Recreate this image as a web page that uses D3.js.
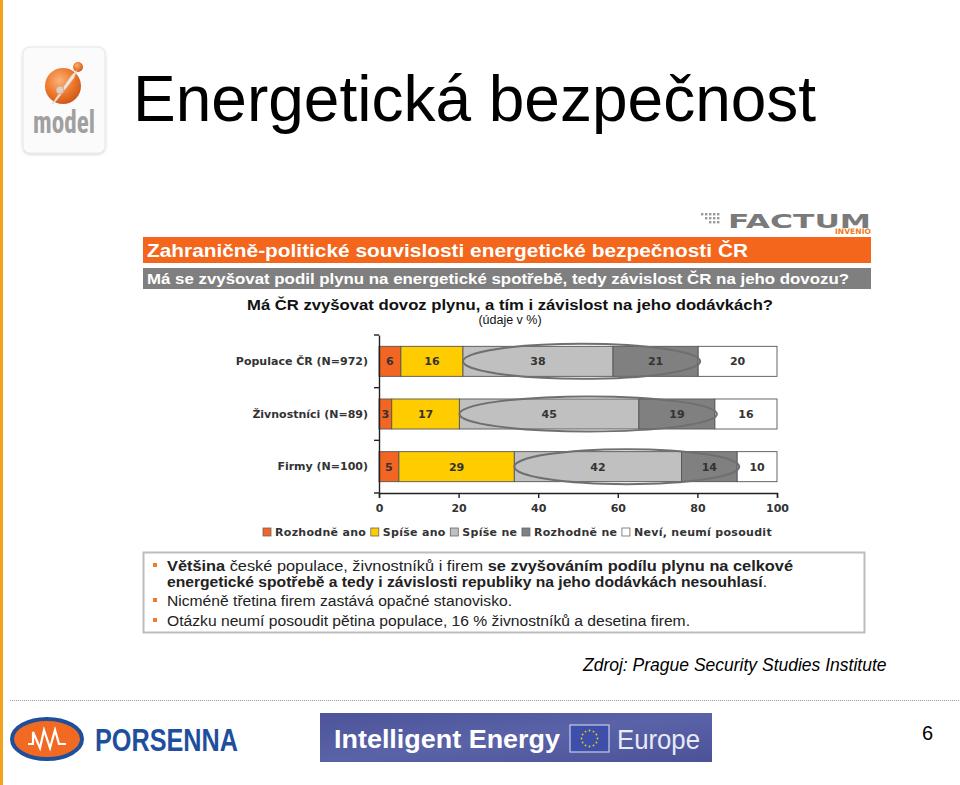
<!DOCTYPE html>
<html><head><meta charset="utf-8">
<script src="https://cdn.jsdelivr.net/npm/d3@7"></script>
<style>
html,body{margin:0;padding:0;background:#fff;}
svg{display:block;}
</style></head>
<body>
<svg id="c" width="960" height="785"></svg>
<script>
// ---------- DATA ----------
const categories = ["Populace ČR (N=972)", "Živnostníci (N=89)", "Firmy (N=100)"];
const seriesNames = ["Rozhodně ano", "Spíše ano", "Spíše ne", "Rozhodně ne", "Neví, neumí posoudit"];
const rozhodneAno = [5.5, 3.2, 5];
const spiseAno    = [15.6, 17.0, 29];
const spiseNe     = [37.7, 45.1, 42];
const rozhodneNe  = [21.4, 19.1, 14];
const nevi        = [19.8, 15.6, 10];
const xTicks = [0, 20, 40, 60, 80, 100];
const seriesColors = ["#f26522", "#ffcc00", "#c0c0c0", "#808080", "#ffffff"];
const highlightedSeries = ["Spíše ne", "Rozhodně ne"];

const titleText = "Energetická bezpečnost";
const headerText = "Zahraničně-politické souvislosti energetické bezpečnosti ČR";
const subHeaderText = "Má se zvyšovat podil plynu na energetické spotřebě, tedy závislost ČR na jeho dovozu?";
const questionText = "Má ČR zvyšovat dovoz plynu, a tím i závislost na jeho dodávkách?";
const unitText = "(údaje v %)";
const sourceText = "Zdroj: Prague Security Studies Institute";
const bulletLines = [
  [["Většina", true], [" české populace, živnostníků i firem ", false], ["se zvyšováním podílu plynu na celkové", true]],
  [["energetické spotřebě a tedy i závislosti republiky na jeho dodávkách nesouhlasí", true], [".", false]],
  [["Nicméně třetina firem zastává opačné stanovisko.", false]],
  [["Otázku neumí posoudit pětina populace, 16 % živnostníků a desetina firem.", false]]
];
const bulletHasBullet = [true, false, true, true];

// ---------- SETUP ----------
const svg = d3.select("#c");
const seriesValues = [rozhodneAno, spiseAno, spiseNe, rozhodneNe, nevi];
const rows = categories.map((c, i) => {
  const r = {cat: c};
  seriesNames.forEach((s, j) => r[s] = seriesValues[j][i]);
  return r;
});
const stacked = d3.stack().keys(seriesNames)(rows);
const color = d3.scaleOrdinal().domain(seriesNames).range(seriesColors);

// left orange border
svg.append("rect").attr("x", 0).attr("y", 0).attr("width", 3).attr("height", 785).attr("fill", "#f4a21e");

// ---------- model logo ----------
const defs = svg.append("defs");
const f = defs.append("filter").attr("id", "sh").attr("x", "-20%").attr("y", "-20%").attr("width", "140%").attr("height", "140%");
f.append("feDropShadow").attr("dx", 0).attr("dy", 1).attr("stdDeviation", 1.5).attr("flood-color", "#000").attr("flood-opacity", 0.18);
const rg = defs.append("radialGradient").attr("id", "orb").attr("cx", "40%").attr("cy", "35%").attr("r", "70%");
rg.append("stop").attr("offset", "0%").attr("stop-color", "#fbb27a");
rg.append("stop").attr("offset", "55%").attr("stop-color", "#ee7a2c");
rg.append("stop").attr("offset", "100%").attr("stop-color", "#c9541a");
svg.append("rect").attr("x", 23).attr("y", 47).attr("width", 82).attr("height", 106).attr("rx", 7)
  .attr("fill", "#fbfbfb").attr("stroke", "#e6e6e6").attr("filter", "url(#sh)");
svg.append("circle").attr("cx", 63).attr("cy", 86).attr("r", 18).attr("fill", "url(#orb)");
svg.append("circle").attr("cx", 78).attr("cy", 67).attr("r", 5).attr("fill", "url(#orb)");
svg.append("path").attr("d", "M77,70 L71,76 L52,104 L56,101 L74,78 Z").attr("fill", "#f3e6dc").attr("stroke", "#d9c3b2").attr("stroke-width", 0.6);
svg.append("circle").attr("cx", 60).attr("cy", 90).attr("r", 4).attr("fill", "#e7cdbb").attr("stroke", "#c9a387").attr("stroke-width", 0.8);
svg.append("text").attr("x", 33).attr("y", 133).attr("font-family", "'Liberation Sans Narrow','Roboto Condensed','Liberation Sans',sans-serif")
  .attr("font-size", 32).attr("font-weight", "bold").attr("fill", "#a0a0a0").attr("textLength", 62).attr("lengthAdjust", "spacingAndGlyphs").text("model");

// ---------- Title ----------
svg.append("text").attr("x", 133).attr("y", 121).attr("font-family", "'Liberation Sans',Arial,sans-serif")
  .attr("font-size", 64).attr("fill", "#000").text(titleText);

// ---------- FACTUM logo ----------
const dots = svg.append("g").attr("fill", "#9a9a9a");
[0,1,2].forEach(r => d3.range(5 - r).forEach(k => {
  dots.append("rect").attr("x", 701 + k * 4 + r * 4).attr("y", 213 + r * 4).attr("width", 2.4).attr("height", 2.4);
}));
svg.append("text").attr("x", 728).attr("y", 228).attr("font-family", "'DejaVu Sans',sans-serif").attr("font-weight", "bold")
  .attr("font-size", 19).attr("fill", "#7a7a7a").attr("textLength", 143).attr("lengthAdjust", "spacingAndGlyphs").text("FACTUM");
svg.append("text").attr("x", 835).attr("y", 234).attr("font-family", "'DejaVu Sans',sans-serif").attr("font-weight", "bold")
  .attr("font-size", 7.5).attr("fill", "#f07b1d").attr("textLength", 36).attr("lengthAdjust", "spacingAndGlyphs").text("INVENIO");

// ---------- Headers ----------
svg.append("rect").attr("x", 143).attr("y", 237).attr("width", 728).attr("height", 26).attr("fill", "#f3661c");
svg.append("text").attr("x", 147).attr("y", 257).attr("font-family", "'Liberation Sans',Arial,sans-serif").attr("font-weight", "bold")
  .attr("font-size", 19).attr("fill", "#fff").attr("textLength", 601).attr("lengthAdjust", "spacingAndGlyphs").text(headerText);
svg.append("rect").attr("x", 143).attr("y", 268).attr("width", 728).attr("height", 21).attr("fill", "#7f7f7f");
svg.append("text").attr("x", 147).attr("y", 284).attr("font-family", "'Liberation Sans',Arial,sans-serif").attr("font-weight", "bold")
  .attr("font-size", 15).attr("fill", "#fff").attr("textLength", 702).attr("lengthAdjust", "spacingAndGlyphs").text(subHeaderText);
svg.append("text").attr("x", 510).attr("y", 310).attr("text-anchor", "middle").attr("font-family", "'Liberation Sans',Arial,sans-serif")
  .attr("font-weight", "bold").attr("font-size", 14.5).attr("fill", "#111").attr("textLength", 526).attr("lengthAdjust", "spacingAndGlyphs").text(questionText);
svg.append("text").attr("x", 510).attr("y", 324).attr("text-anchor", "middle").attr("font-family", "'Liberation Sans',Arial,sans-serif")
  .attr("font-size", 12.5).attr("fill", "#111").text(unitText);

// ---------- Chart ----------
const x = d3.scaleLinear().domain([0, 100]).range([379, 777]);
const y = d3.scaleBand().domain(categories).range([335, 493]).paddingInner(0.43).paddingOuter(0.215);
const chartFont = "'DejaVu Sans',Verdana,sans-serif";

const g = svg.append("g");
g.selectAll("g.series").data(stacked).join("g").attr("class", "series")
  .attr("fill", d => color(d.key))
  .selectAll("rect").data(d => d).join("rect")
  .attr("x", d => x(d[0])).attr("y", d => y(d.data.cat))
  .attr("width", d => x(d[1]) - x(d[0])).attr("height", y.bandwidth())
  .attr("stroke", "#555").attr("stroke-width", 0.9);

// value labels
const fmt = d3.format(".0f");
g.selectAll("g.lab").data(stacked).join("g").attr("class", "lab")
  .selectAll("text").data(d => d).join("text")
  .attr("x", d => x((d[0] + d[1]) / 2)).attr("y", d => y(d.data.cat) + y.bandwidth() / 2 + 4)
  .attr("text-anchor", "middle").attr("font-family", chartFont).attr("font-weight", "bold").attr("font-size", 11)
  .attr("fill", "#333").text(d => fmt(d[1] - d[0]));

// highlight ellipses
const firstHi = stacked.find(s => s.key === highlightedSeries[0]);
const lastHi = stacked.find(s => s.key === highlightedSeries[1]);
g.selectAll("ellipse").data(categories).join("ellipse")
  .attr("cx", (c, i) => (x(firstHi[i][0]) + x(lastHi[i][1])) / 2 + 1)
  .attr("cy", c => y(c) + y.bandwidth() / 2)
  .attr("rx", (c, i) => (x(lastHi[i][1]) - x(firstHi[i][0])) / 2 + 1)
  .attr("ry", 17.5)
  .attr("fill", "none").attr("stroke", "#6f6f6f").attr("stroke-width", 2);

// y axis
const yAxis = g.append("g").attr("transform", "translate(379,0)")
  .call(d3.axisLeft(y).tickSize(0).tickPadding(11));
yAxis.select(".domain").attr("stroke", "#222").attr("stroke-width", 1.4);
yAxis.selectAll("text").attr("font-family", chartFont).attr("font-weight", "bold").attr("font-size", 11).attr("fill", "#333");
const boundaries = d3.range(categories.length + 1).map(i => 335 + i * (y.range()[1] - y.range()[0]) / categories.length);
g.selectAll("line.yb").data(boundaries).join("line").attr("class", "yb")
  .attr("x1", 374).attr("x2", 379).attr("y1", d => d).attr("y2", d => d).attr("stroke", "#222").attr("stroke-width", 1.4);

// x axis
const xAxis = g.append("g").attr("transform", "translate(0,493)")
  .call(d3.axisBottom(x).tickValues(xTicks).tickSize(5).tickPadding(6));
xAxis.select(".domain").attr("stroke", "#222").attr("stroke-width", 1.4);
xAxis.selectAll(".tick line").attr("stroke", "#222").attr("stroke-width", 1.4);
xAxis.selectAll("text").attr("font-family", chartFont).attr("font-weight", "bold").attr("font-size", 11).attr("fill", "#333");

// legend (spread to span 263..772)
const leg = svg.append("g");
const legItems = seriesNames.map(s => {
  const t = leg.append("text").attr("y", 536).attr("font-family", chartFont).attr("font-weight", "bold")
    .attr("font-size", 11).attr("fill", "#333").attr("letter-spacing", 0.3).text(s);
  return {s, t, w: t.node().getComputedTextLength()};
});
const totalW = d3.sum(legItems, d => d.w + 12);
const gap = (772 - 263 - totalW) / (legItems.length - 1);
let lx = 263;
legItems.forEach(it => {
  leg.append("rect").attr("x", lx).attr("y", 528).attr("width", 8).attr("height", 8)
    .attr("fill", color(it.s)).attr("stroke", "#666").attr("stroke-width", 0.8);
  it.t.attr("x", lx + 12);
  lx += 12 + it.w + gap;
});

// ---------- Text box ----------
svg.append("rect").attr("x", 143.5).attr("y", 552.5).attr("width", 721).attr("height", 80)
  .attr("fill", "#fff").attr("stroke", "#bdbdbd").attr("stroke-width", 2);
const lineY = [571, 587, 606, 626];
const lineW = [626, 600, 345, 523];
bulletLines.forEach((parts, i) => {
  if (bulletHasBullet[i]) {
    svg.append("rect").attr("x", 153).attr("y", lineY[i] - 8).attr("width", 4).attr("height", 4).attr("fill", "#f07b2a");
  }
  const t = svg.append("text").attr("x", 167).attr("y", lineY[i]).attr("font-family", "'Liberation Sans',Arial,sans-serif")
    .attr("font-size", 15.5).attr("fill", "#222").attr("textLength", lineW[i]).attr("lengthAdjust", "spacingAndGlyphs");
  parts.forEach(p => t.append("tspan").attr("font-weight", p[1] ? "bold" : "normal").text(p[0]));
});

// source
svg.append("text").attr("x", 583).attr("y", 671).attr("font-family", "'Liberation Sans',Arial,sans-serif")
  .attr("font-style", "italic").attr("font-size", 17.5).attr("fill", "#000").text(sourceText);

// dotted line
svg.append("line").attr("x1", 10).attr("x2", 960).attr("y1", 700.5).attr("y2", 700.5)
  .attr("stroke", "#9a9a9a").attr("stroke-width", 1).attr("stroke-dasharray", "1,1");

// ---------- PORSENNA logo ----------
svg.append("ellipse").attr("cx", 47).attr("cy", 739).attr("rx", 35).attr("ry", 20)
  .attr("fill", "#f26a21").attr("stroke", "#1d4f9c").attr("stroke-width", 4);
svg.append("path").attr("d", "M28,744 L33,744 L33,732 L40,748 L44,730 L50,748 L55,730 L59,744 L66,744")
  .attr("fill", "none").attr("stroke", "#fff").attr("stroke-width", 2.2);
svg.append("text").attr("x", 95).attr("y", 751).attr("font-family", "'Liberation Sans Narrow','Liberation Sans',sans-serif")
  .attr("font-weight", "bold").attr("font-size", 32).attr("fill", "#1d4f9c")
  .attr("textLength", 143).attr("lengthAdjust", "spacingAndGlyphs").text("PORSENNA");

// ---------- Intelligent Energy banner ----------
const bg = defs.append("linearGradient").attr("id", "ban").attr("x1", "0").attr("y1", "0").attr("x2", "1").attr("y2", "1");
bg.append("stop").attr("offset", "0%").attr("stop-color", "#4d5499");
bg.append("stop").attr("offset", "50%").attr("stop-color", "#5a62a8");
bg.append("stop").attr("offset", "100%").attr("stop-color", "#4b5298");
svg.append("rect").attr("x", 320).attr("y", 713).attr("width", 392).attr("height", 49).attr("fill", "url(#ban)");
svg.append("text").attr("x", 334).attr("y", 748).attr("font-family", "'Liberation Sans',Arial,sans-serif").attr("font-weight", "bold")
  .attr("font-size", 25).attr("fill", "#fff").attr("textLength", 226).attr("lengthAdjust", "spacingAndGlyphs").text("Intelligent Energy");
svg.append("rect").attr("x", 570).attr("y", 725).attr("width", 39).attr("height", 27).attr("fill", "#3d4fa8").attr("stroke", "#c8cce8").attr("stroke-width", 1.2);
d3.range(12).forEach(k => {
  const a = k / 12 * 2 * Math.PI;
  svg.append("circle").attr("cx", 589.5 + 8 * Math.cos(a)).attr("cy", 738.5 + 8 * Math.sin(a)).attr("r", 0.9).attr("fill", "#f5d000");
});
svg.append("text").attr("x", 617).attr("y", 749).attr("font-family", "'Liberation Sans',Arial,sans-serif")
  .attr("font-size", 27).attr("fill", "#e8eaf6").attr("textLength", 83).attr("lengthAdjust", "spacingAndGlyphs").text("Europe");

// page number
svg.append("text").attr("x", 922).attr("y", 740).attr("font-family", "'Liberation Sans',Arial,sans-serif")
  .attr("font-size", 20).attr("fill", "#000").text("6");
</script>
</body></html>
